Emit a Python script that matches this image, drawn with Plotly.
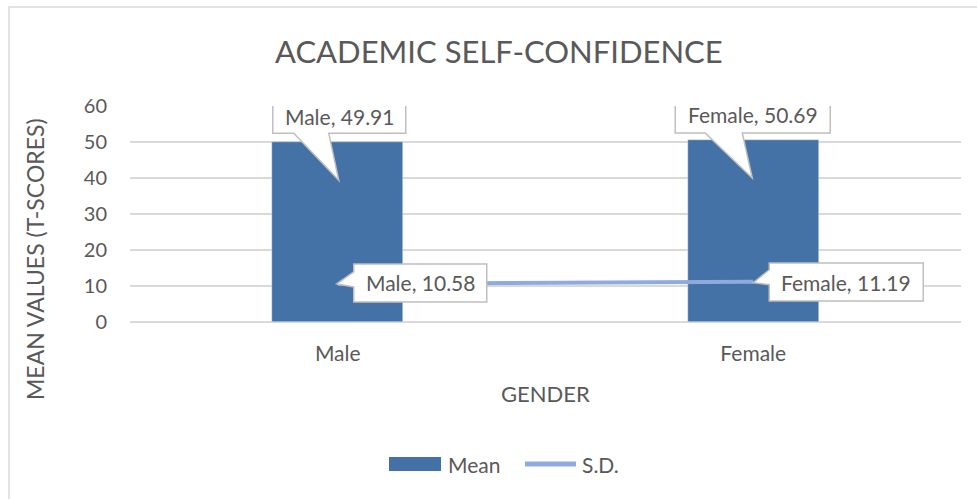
import plotly.graph_objects as go

categories = ["Male", "Female"]
mean_values = [49.91, 50.69]
sd_values = [10.58, 11.19]
y_ticks = [0, 10, 20, 30, 40, 50, 60]
series_names = ["Mean", "S.D."]

TXT = "#595959"
FONT = "Lato"
BAR_C = "#4472A6"
LINE_C = "#8FAADC"
idx = list(range(len(categories)))

# plot area in window pixels
PL, PR, PT, PB = 130, 961, 106, 322
PW, PH = PR - PL, PB - PT


def px(x):
    return (x - PL) / PW


def py(y):
    return (PB - y) / PH


fig = go.Figure()
fig.add_trace(go.Bar(x=idx, y=mean_values, name=series_names[0], marker_color=BAR_C,
                     width=0.315, showlegend=False))
fig.add_trace(go.Scatter(x=idx, y=sd_values, name=series_names[1], mode="lines",
                         line=dict(color=LINE_C, width=4), showlegend=False))


def callout(i, v, text, bx0, bx1, by0, by1, wedge, side):
    w0, w1, tx, ty = wedge
    if side == "bottom":
        path = (f"M {bx0},{by0} L {w0},{by0} L {tx},{ty} L {w1},{by0} "
                f"L {bx1},{by0} L {bx1},{by1} L {bx0},{by1} Z")
    else:
        path = (f"M {bx0},{by0} L {bx0},{w0} L {tx},{ty} L {bx0},{w1} "
                f"L {bx0},{by1} L {bx1},{by1} L {bx1},{by0} Z")
    fig.add_shape(type="path", xref="x", yref="y", xsizemode="pixel", ysizemode="pixel",
                  xanchor=i, yanchor=v, path=path,
                  fillcolor="white", line=dict(color="#BFBFBF", width=1.5), layer="above")
    fig.add_annotation(x=i, y=v, xref="x", yref="y", text=text, showarrow=False,
                       xanchor="center", yanchor="middle",
                       xshift=(bx0 + bx1) / 2, yshift=(by0 + by1) / 2,
                       font=dict(family=FONT, size=21, color=TXT))


callout(0, mean_values[0], f"{categories[0]}, {mean_values[0]:.2f}", -65, 68, 9, 42,
        (-44, -9, 1, -38), "bottom")
callout(1, mean_values[1], f"{categories[1]}, {mean_values[1]:.2f}", -78, 77, 6.5, 44.5,
        (-48, -11, -1, -38.5), "bottom")
callout(0, sd_values[0], f"{categories[0]}, {sd_values[0]:.2f}", 16, 149, -18, 20,
        (-3, 12, -1, 0), "left")
callout(1, sd_values[1], f"{categories[1]}, {sd_values[1]:.2f}", 16, 170, -19.3, 18.7,
        (-3, 12, 0, -1), "left")

# outer chart border (right/bottom edges fall outside the window)
fig.add_shape(type="rect", xref="paper", yref="paper", x0=px(9), x1=px(990), y0=py(510),
              y1=py(7), line=dict(color="#D9D9D9", width=1.5),
              fillcolor="rgba(0,0,0,0)", layer="below")

# custom legend
fig.add_shape(type="rect", xref="paper", yref="paper", x0=px(389), x1=px(441),
              y0=py(471), y1=py(457), fillcolor=BAR_C, line=dict(width=0))
fig.add_shape(type="line", xref="paper", yref="paper", x0=px(525), x1=px(576),
              y0=py(464), y1=py(464), line=dict(color=LINE_C, width=5))
fig.add_annotation(text=series_names[0], xref="paper", yref="paper", x=px(446), y=py(464),
                   xanchor="left", yanchor="middle", showarrow=False,
                   font=dict(family=FONT, size=21, color=TXT))
fig.add_annotation(text=series_names[1], xref="paper", yref="paper", x=px(580), y=py(464),
                   xanchor="left", yanchor="middle", showarrow=False,
                   font=dict(family=FONT, size=21, color=TXT))

fig.add_annotation(text="ACADEMIC SELF-CONFIDENCE", xref="paper", yref="paper",
                   x=px(499), y=py(51), xanchor="center", yanchor="middle", showarrow=False,
                   font=dict(family=FONT, size=31, color=TXT))
fig.add_annotation(text="MEAN VALUES (T-SCORES)", xref="paper", yref="paper",
                   x=px(35), y=py(259), xanchor="center", yanchor="middle",
                   showarrow=False, textangle=-90,
                   font=dict(family=FONT, size=23, color=TXT))
fig.add_annotation(text="GENDER", xref="paper", yref="paper",
                   x=px(545), y=py(393), xanchor="center", yanchor="middle", showarrow=False,
                   font=dict(family=FONT, size=22, color=TXT))

fig.update_layout(
    width=977, height=499,
    margin=dict(l=PL, r=977 - PR, t=PT, b=499 - PB),
    paper_bgcolor="white", plot_bgcolor="white",
    font=dict(family=FONT, color=TXT, size=20),
    showlegend=False,
    xaxis=dict(range=[-0.5, 1.5], tickvals=idx, ticktext=categories, showgrid=False,
               zeroline=False, showline=False, ticks="", ticklabelstandoff=17,
               tickfont=dict(family=FONT, size=21, color=TXT), fixedrange=True),
    yaxis=dict(range=[0, 60], tickvals=y_ticks, showgrid=True, gridcolor="#D9D9D9",
               gridwidth=1.5, zeroline=True, zerolinecolor="#D9D9D9", zerolinewidth=1.5,
               showline=False, ticks="", ticklabelstandoff=22,
               tickfont=dict(family=FONT, size=20, color=TXT)),
    bargap=0,
)

fig.write_html("out.html", config={"displayModeBar": False},
               post_script="document.body.style.margin='0px';")
